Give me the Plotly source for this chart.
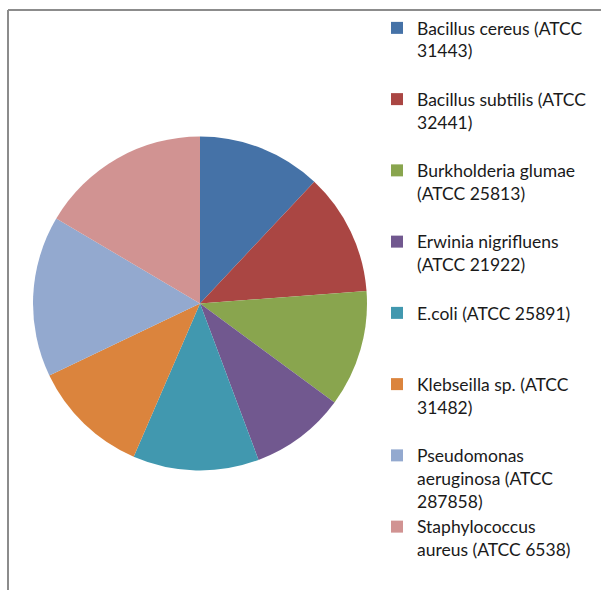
import plotly.graph_objects as go

labels = [
    "Bacillus cereus (ATCC<br>31443)<br> ",
    "Bacillus subtilis (ATCC<br>32441)<br> ",
    "Burkholderia glumae<br>(ATCC 25813)<br> ",
    "Erwinia nigrifluens<br>(ATCC 21922)<br> ",
    "E.coli (ATCC 25891)<br> <br> ",
    "Klebseilla sp. (ATCC<br>31482)<br> ",
    "Pseudomonas<br>aeruginosa (ATCC<br>287858)",
    "Staphylococcus<br>aureus (ATCC 6538)<br> ",
]
values = [12.0, 11.8, 11.3, 9.2, 12.2, 11.4, 15.6, 16.5]
colors = ["#4572A7", "#AA4643", "#89A54E", "#71588F", "#4198AF", "#DB843D", "#93A9CF", "#D19392"]

W, H = 601, 590

fig = go.Figure(go.Pie(
    labels=labels,
    values=values,
    sort=False,
    direction="clockwise",
    rotation=0,
    textinfo="none",
    marker=dict(colors=colors, line=dict(width=0)),
    domain=dict(x=[33 / W, 367 / W], y=[(H - 470.5) / H, (H - 136.5) / H]),
))

fig.update_layout(
    width=W, height=H,
    margin=dict(l=0, r=0, t=0, b=0),
    paper_bgcolor="white",
    font=dict(family="Lato, 'Open Sans', sans-serif", size=17.5, color="#1a1a1a"),
    showlegend=True,
    legend=dict(
        x=377 / W, xanchor="left",
        y=1 - 14 / H, yanchor="top",
        valign="top",
        tracegroupgap=0,
        bgcolor="rgba(0,0,0,0)",
    ),
    shapes=[
        dict(type="line", xref="paper", yref="paper", x0=8 / W, x1=1, y0=1 - 10 / H, y1=1 - 10 / H,
             line=dict(color="#8c8c8c", width=2)),
        dict(type="line", xref="paper", yref="paper", x0=8 / W, x1=8 / W, y0=1 - 10 / H, y1=0,
             line=dict(color="#8c8c8c", width=2)),
    ],
)

fig.write_html("out.html")
